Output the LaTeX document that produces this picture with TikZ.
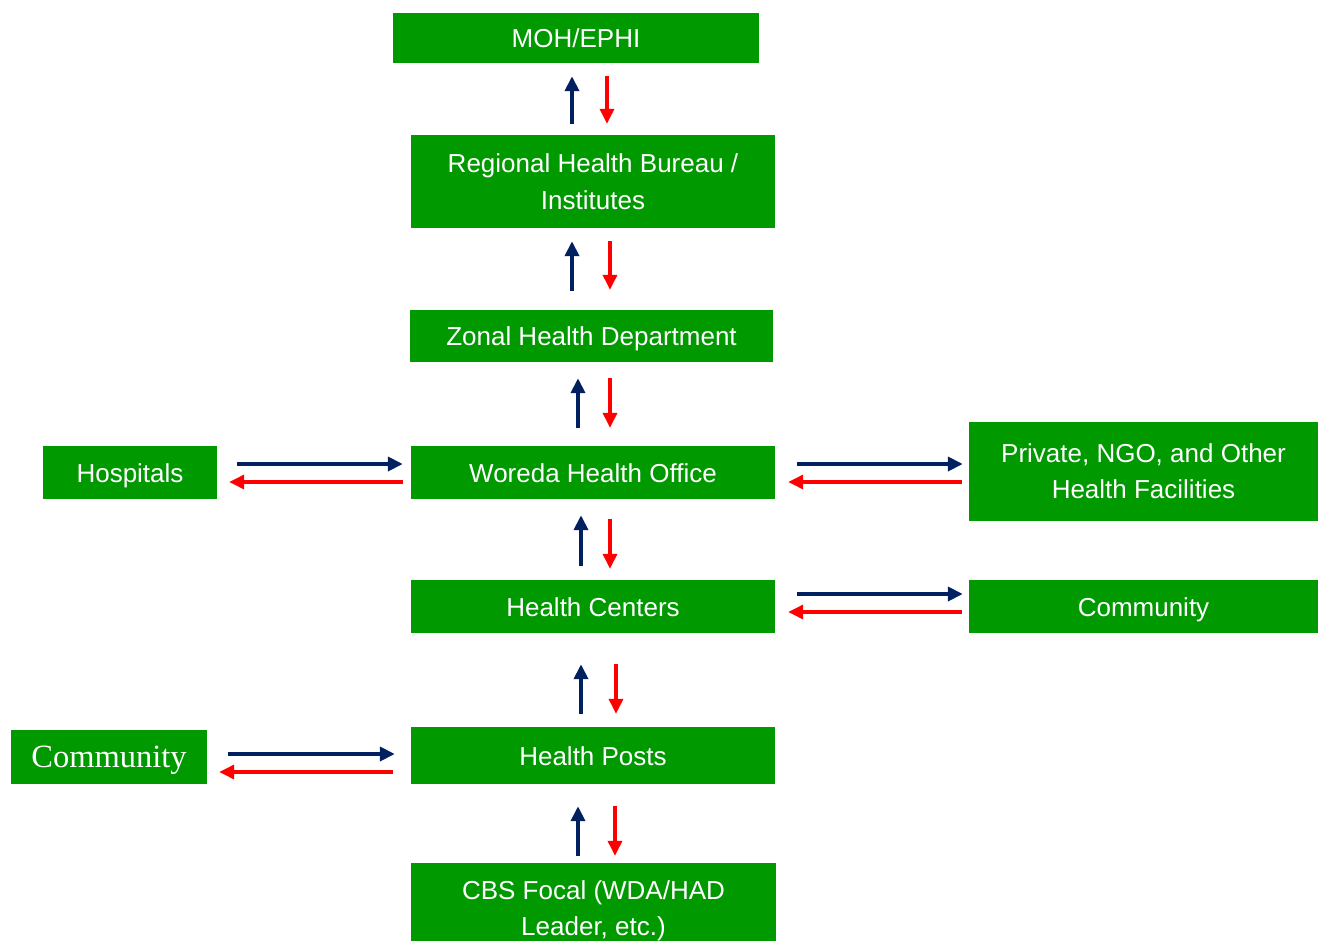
\documentclass[tikz,border=0pt]{standalone}
\usepackage{fontspec}
\setmainfont{Liberation Sans}
\newfontfamily\serifface{Liberation Serif}
\usetikzlibrary{arrows.meta}
\definecolor{boxgreen}{RGB}{0,153,0}
\definecolor{upblue}{RGB}{0,32,96}
\definecolor{downred}{RGB}{255,0,0}
\begin{document}
\begin{tikzpicture}[x=1pt,y=-1pt,
  box/.style={fill=boxgreen,text=white,inner sep=0pt,align=center,
    font=\fontsize{26}{36.5}\selectfont},
  oneline/.style={text height=19pt,text depth=0pt},
  uparr/.style={upblue,line width=3.8pt,-{Triangle[width=14pt,length=15pt]}},
  downarr/.style={downred,line width=3.4pt,-{Triangle[width=14pt,length=15pt]}}]
\useasboundingbox (0,0) rectangle (1320,940);

% levels of the reporting chain
\node[box,oneline,minimum width=366pt,minimum height=50pt] (moh) at (576,38) {MOH/EPHI};
\node[box,minimum width=364pt,minimum height=93pt] (rhb) at (593,181.5) {Regional Health Bureau /\\Institutes};
\node[box,oneline,minimum width=363pt,minimum height=52pt] (zonal) at (591.5,336) {Zonal Health Department};
\node[box,oneline,minimum width=364pt,minimum height=53pt] (woreda) at (593,472.5) {Woreda Health Office};
\node[box,oneline,minimum width=364pt,minimum height=53pt] (hc) at (593,606.5) {Health Centers};
\node[box,oneline,minimum width=364pt,minimum height=57pt] (hp) at (593,755.5) {Health Posts};
\node[box,minimum width=365pt,minimum height=96pt] (cbs) at (593.5,911) {CBS Focal (WDA/HAD\\Leader, etc.)};

% side partners
\node[box,oneline,minimum width=174pt,minimum height=53pt] (hosp) at (130,472.5) {Hospitals};
\node[box,minimum width=349pt,minimum height=99pt] (priv) at (1143.5,471) {Private, NGO, and Other\\Health Facilities};
\node[box,oneline,minimum width=349pt,minimum height=53pt] (commR) at (1143.5,606.5) {Community};
\node[box,minimum width=196pt,minimum height=54pt,text height=21pt,text depth=0pt,
  font=\serifface\fontsize{32.5}{36}\selectfont] (commL) at (109,757) {Community};

% vertical report (up) and feedback (down) arrows
\draw[uparr,shorten <=11pt,shorten >=13pt] ([xshift=-21pt]rhb.north) -- ([xshift=-21pt]rhb.north |- moh.south);
\draw[downarr,shorten <=13pt,shorten >=11pt] ([xshift=14pt]rhb.north |- moh.south) -- ([xshift=14pt]rhb.north);

\draw[uparr,shorten <=19pt,shorten >=13pt] ([xshift=-19.5pt]zonal.north) -- ([xshift=-19.5pt]zonal.north |- rhb.south);
\draw[downarr,shorten <=13pt,shorten >=20pt] ([xshift=18.5pt]zonal.north |- rhb.south) -- ([xshift=18.5pt]zonal.north);

\draw[uparr,shorten <=18pt,shorten >=16pt] ([xshift=-15pt]woreda.north) -- ([xshift=-15pt]woreda.north |- zonal.south);
\draw[downarr,shorten <=16pt,shorten >=18pt] ([xshift=17pt]woreda.north |- zonal.south) -- ([xshift=17pt]woreda.north);

\draw[uparr,shorten <=14pt,shorten >=16pt] ([xshift=-12pt]hc.north) -- ([xshift=-12pt]hc.north |- woreda.south);
\draw[downarr,shorten <=20pt,shorten >=11pt] ([xshift=17pt]hc.north |- woreda.south) -- ([xshift=17pt]hc.north);

\draw[uparr,shorten <=13pt,shorten >=31pt] ([xshift=-12pt]hp.north) -- ([xshift=-12pt]hp.north |- hc.south);
\draw[downarr,shorten <=31pt,shorten >=13pt] ([xshift=23pt]hp.north |- hc.south) -- ([xshift=23pt]hp.north);

\draw[uparr,shorten <=7pt,shorten >=22pt] ([xshift=-15.5pt]cbs.north) -- ([xshift=-15.5pt]cbs.north |- hp.south);
\draw[downarr,shorten <=22pt,shorten >=7pt] ([xshift=21.5pt]cbs.north |- hp.south) -- ([xshift=21.5pt]cbs.north);

% horizontal exchanges with side partners
\draw[uparr,shorten <=20pt,shorten >=8pt] ([yshift=8.5pt]hosp.east) -- ([yshift=8.5pt]hosp.east -| woreda.west);
\draw[downarr,shorten <=8pt,shorten >=12pt] ([yshift=-9.5pt]hosp.east -| woreda.west) -- ([yshift=-9.5pt]hosp.east);

\draw[uparr,shorten <=22pt,shorten >=6pt] ([yshift=8.5pt]woreda.east) -- ([yshift=8.5pt]woreda.east -| priv.west);
\draw[downarr,shorten <=7pt,shorten >=13pt] ([yshift=-9.5pt]woreda.east -| priv.west) -- ([yshift=-9.5pt]woreda.east);

\draw[uparr,shorten <=22pt,shorten >=6pt] ([yshift=12.5pt]hc.east) -- ([yshift=12.5pt]hc.east -| commR.west);
\draw[downarr,shorten <=7pt,shorten >=13pt] ([yshift=-5.5pt]hc.east -| commR.west) -- ([yshift=-5.5pt]hc.east);

\draw[uparr,shorten <=21pt,shorten >=16pt] ([yshift=1.5pt]hp.west -| commL.east) -- ([yshift=1.5pt]hp.west);
\draw[downarr,shorten <=18pt,shorten >=12pt] ([yshift=-16.5pt]hp.west) -- ([yshift=-16.5pt]hp.west -| commL.east);
\end{tikzpicture}
\end{document}
